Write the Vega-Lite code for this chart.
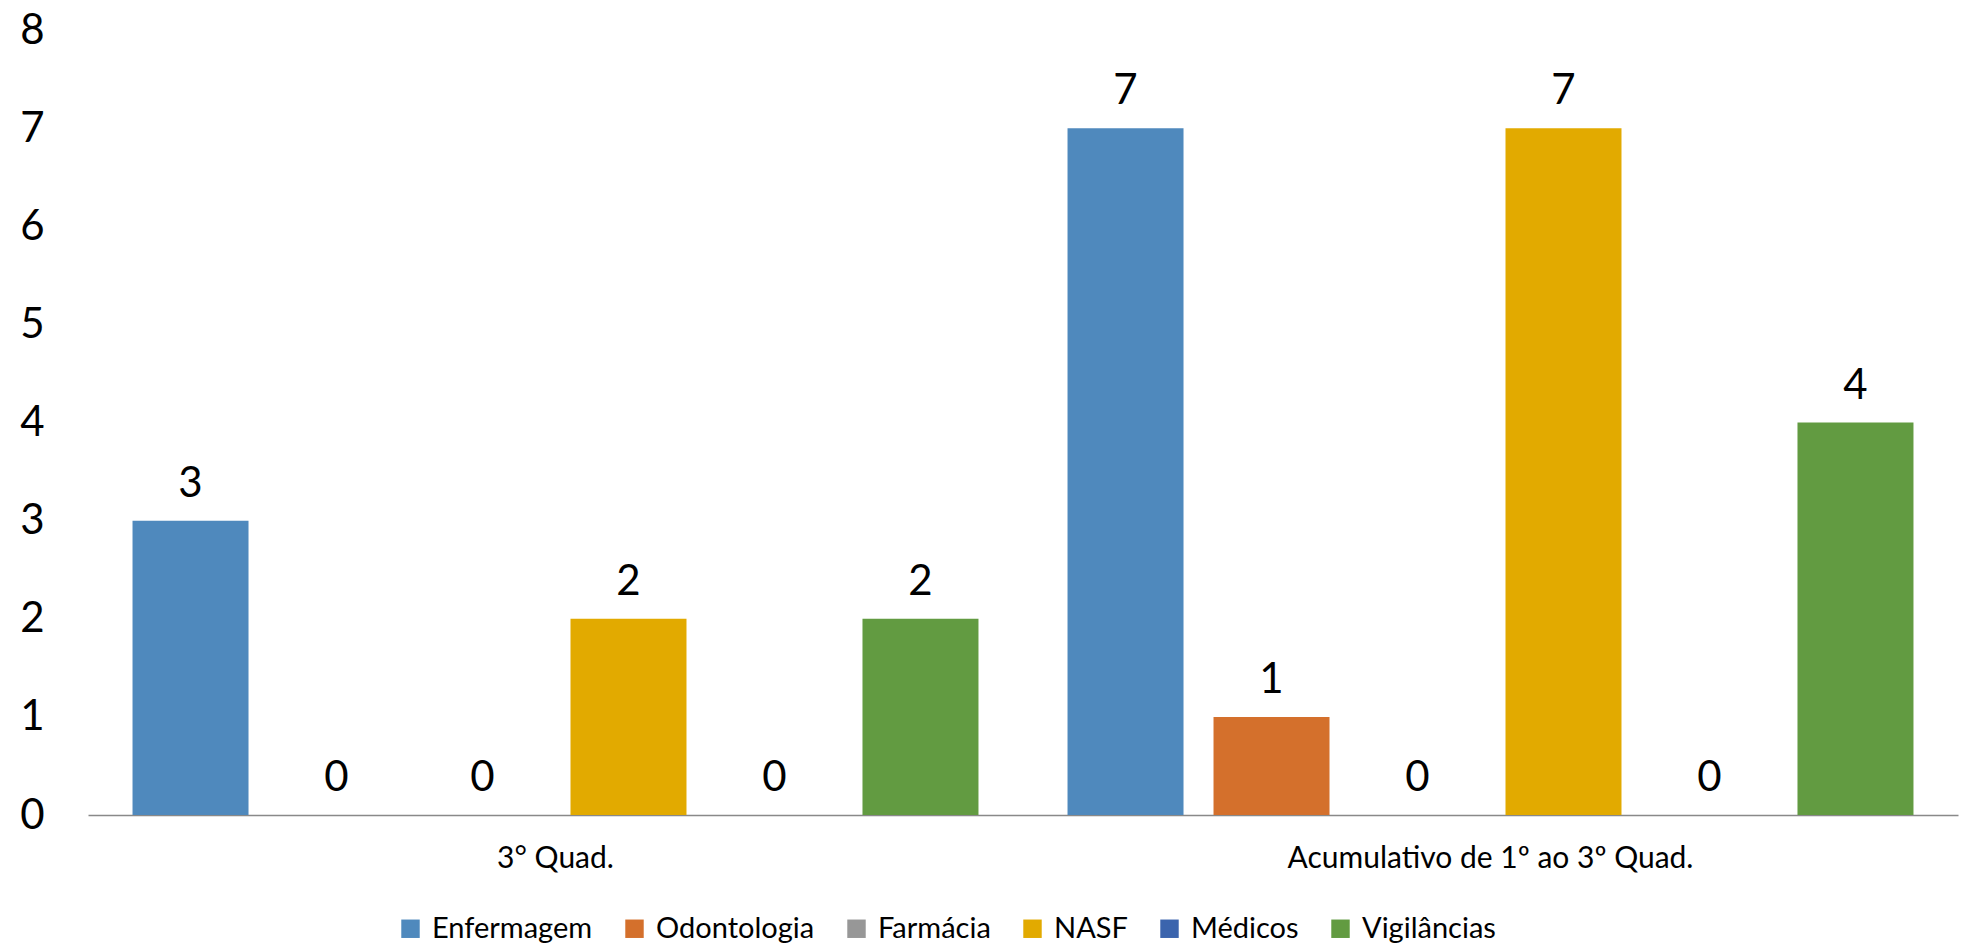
{
  "$schema": "https://vega.github.io/schema/vega-lite/v6.json",
  "width": 1870,
  "height": 785,
  "autosize": {"type": "none"},
  "padding": {"left": 88, "top": 30, "right": 6, "bottom": 128},
  "background": "white",
  "config": {"view": {"stroke": null}, "font": "Lato"},
  "data": {
    "values": [
      {"periodo": "3° Quad.", "categoria": "Enfermagem", "valor": 3},
      {"periodo": "3° Quad.", "categoria": "Odontologia", "valor": 0},
      {"periodo": "3° Quad.", "categoria": "Farmácia", "valor": 0},
      {"periodo": "3° Quad.", "categoria": "NASF", "valor": 2},
      {"periodo": "3° Quad.", "categoria": "Médicos", "valor": 0},
      {"periodo": "3° Quad.", "categoria": "Vigilâncias", "valor": 2},
      {"periodo": "Acumulativo de 1º ao 3º Quad.", "categoria": "Enfermagem", "valor": 7},
      {"periodo": "Acumulativo de 1º ao 3º Quad.", "categoria": "Odontologia", "valor": 1},
      {"periodo": "Acumulativo de 1º ao 3º Quad.", "categoria": "Farmácia", "valor": 0},
      {"periodo": "Acumulativo de 1º ao 3º Quad.", "categoria": "NASF", "valor": 7},
      {"periodo": "Acumulativo de 1º ao 3º Quad.", "categoria": "Médicos", "valor": 0},
      {"periodo": "Acumulativo de 1º ao 3º Quad.", "categoria": "Vigilâncias", "valor": 4}
    ]
  },
  "encoding": {
    "x": {
      "field": "periodo",
      "type": "nominal",
      "sort": ["3° Quad.", "Acumulativo de 1º ao 3º Quad."],
      "scale": {"paddingInner": 0, "paddingOuter": 0},
      "axis": {
        "title": null,
        "labelAngle": 0,
        "labelFontSize": 30,
        "labelLimit": 0,
        "labelColor": "#000000",
        "domainColor": "#898989",
        "domainWidth": 1.5,
        "ticks": false,
        "labelPadding": 28
      }
    },
    "xOffset": {
      "field": "categoria",
      "type": "nominal",
      "sort": ["Enfermagem", "Odontologia", "Farmácia", "NASF", "Médicos", "Vigilâncias"],
      "scale": {"paddingInner": 0.2055, "paddingOuter": 0.305}
    },
    "y": {
      "field": "valor",
      "type": "quantitative",
      "scale": {"domain": [0, 8], "nice": false},
      "axis": {
        "title": null,
        "grid": false,
        "domain": false,
        "ticks": false,
        "values": [0, 1, 2, 3, 4, 5, 6, 7, 8],
        "labelFontSize": 42,
        "labelPadding": 44,
        "labelColor": "#000000"
      }
    }
  },
  "layer": [
    {
      "mark": {"type": "bar"},
      "encoding": {
        "color": {
          "field": "categoria",
          "type": "nominal",
          "sort": ["Enfermagem", "Odontologia", "Farmácia", "NASF", "Médicos", "Vigilâncias"],
          "scale": {
            "domain": ["Enfermagem", "Odontologia", "Farmácia", "NASF", "Médicos", "Vigilâncias"],
            "range": ["#4F89BD", "#D4702C", "#979797", "#E2AA00", "#3B64AD", "#629B41"]
          },
          "legend": {
            "orient": "none",
            "legendX": 308,
            "legendY": 884,
            "direction": "horizontal",
            "title": null,
            "symbolType": "square",
            "symbolSize": 340,
            "symbolStrokeWidth": 0,
            "symbolOpacity": 1,
            "labelFontSize": 29,
            "labelLimit": 0,
            "labelColor": "#000000",
            "labelOffset": 7,
            "columnPadding": 27
          }
        }
      }
    },
    {
      "mark": {"type": "text", "baseline": "alphabetic", "dy": -24, "fontSize": 42, "color": "#000000"},
      "encoding": {"text": {"field": "valor", "type": "quantitative"}}
    }
  ]
}
